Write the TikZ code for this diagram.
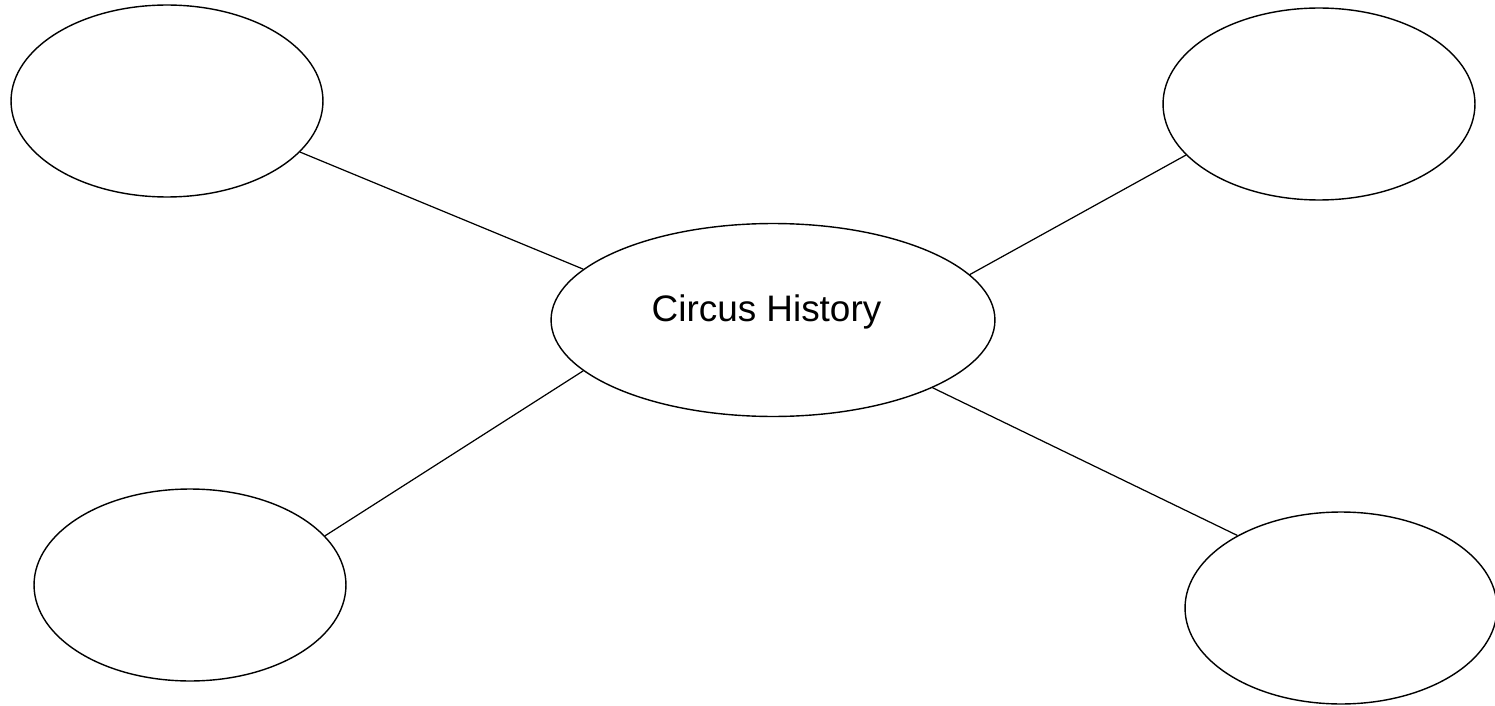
\documentclass[tikz,border=0pt]{standalone}
\usepackage{fontspec}
\setmainfont{Liberation Sans}
\usetikzlibrary{shapes.geometric, positioning}

\begin{document}
\begin{tikzpicture}[
	  x=0.02cm, y=-0.02cm,
	  topic/.style={
	  	ellipse,
	  	draw,
	  	line width=0.8pt,
	  	inner sep=0pt,
	  	minimum width=8.88cm,
	  	minimum height=3.86cm
	  },
	  bubble/.style={
		  ellipse,
		  draw,
		  line width=0.8pt,
		  inner sep=0pt,
		  minimum width=6.24cm,
		  minimum height=3.84cm
	  },
	  spoke/.style={line width=0.7pt}]
	\useasboundingbox (0,0) rectangle (1495,706);
	% Centre
	\node[topic, label={[name=title, xshift=-0.13cm, yshift=0.16cm, font=\fontsize{21}{25}\selectfont]center:Circus History}] (history) at (773,320) {};
	% Bubbles
	\node[bubble] (upleft) at (167,101) {};
	\node[bubble] (upright) at (1319,104) {};
	\node[bubble] (lowleft) at (190,585) {};
	\node[bubble] (lowright) at (1341,608) {};
	% Spokes
	\draw[spoke] (history.165.4) -- (upleft.-21.4);
	\draw[spoke] (history.13.7) -- (upright.-159.8);
	\draw[spoke] (history.-165.4) -- (lowleft.20.3);
	\draw[spoke] (history.-23.8) -- (lowright.145.8);
\end{tikzpicture}
\end{document}
